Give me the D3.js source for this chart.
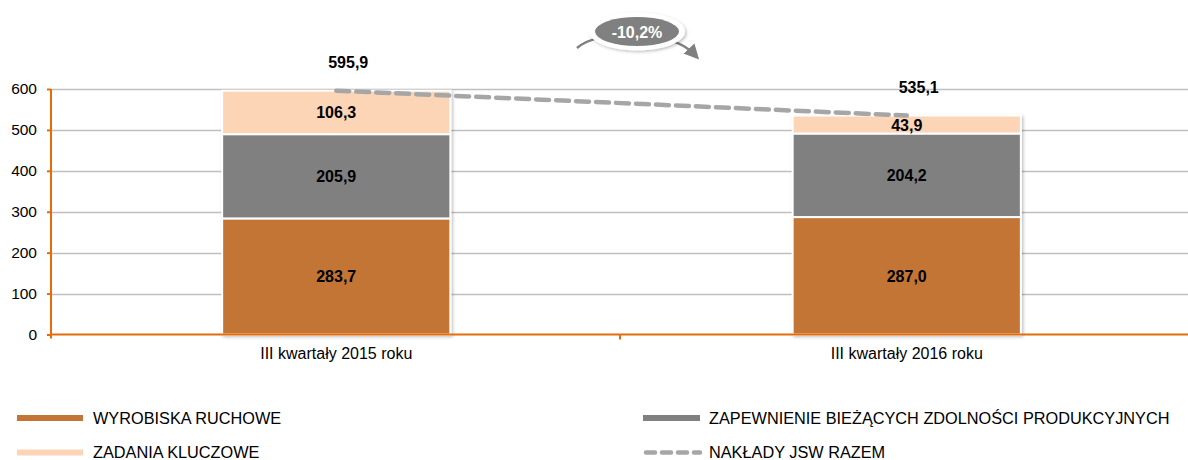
<!DOCTYPE html>
<html><head><meta charset="utf-8">
<script src="https://cdn.jsdelivr.net/npm/d3@7"></script>
<style>body{margin:0;background:#fff;}svg{display:block;font-family:"Liberation Sans",Arial,sans-serif;}</style>
</head><body>
<svg id="c" width="1188" height="460"></svg>
<script>
const categories = ["III kwartały 2015 roku", "III kwartały 2016 roku"];
const wyrobiska = [283.7, 287.0];
const zapewnienie = [205.9, 204.2];
const zadania = [106.3, 43.9];
const razem = [595.9, 535.1];
const yTicks = [0, 100, 200, 300, 400, 500, 600];
const seriesNames = ["WYROBISKA RUCHOWE", "ZAPEWNIENIE BIEŻĄCYCH ZDOLNOŚCI PRODUKCYJNYCH", "ZADANIA KLUCZOWE", "NAKŁADY JSW RAZEM"];
const changeLabel = "-10,2%";

const fmt = v => v.toFixed(1).replace(".", ",");
const svg = d3.select("#c");
const colors = ["#C37535", "#808080", "#FBD5B5"];
const FF = "Liberation Sans, Arial, sans-serif";

const x = d3.scaleBand().domain(categories).range([51, 1192]).padding(0);
const y = d3.scaleLinear().domain([0, 600]).range([334.5, 89]);

const defs = svg.append("defs");
const f = defs.append("filter").attr("id", "sh").attr("x", "-10%").attr("y", "-10%").attr("width", "130%").attr("height", "130%");
f.append("feDropShadow").attr("dx", 1.5).attr("dy", 1.5).attr("stdDeviation", 1.5).attr("flood-color", "#000").attr("flood-opacity", 0.25);
defs.append("marker").attr("id", "ah").attr("viewBox", "0 0 10 10").attr("refX", 5).attr("refY", 5)
  .attr("markerWidth", 6).attr("markerHeight", 6).attr("orient", "auto")
  .append("path").attr("d", "M0,0 L10,5 L0,10 Z").attr("fill", "#808080");

// gridlines
svg.append("g").selectAll("line").data(yTicks.slice(1)).join("line")
  .attr("x1", 51).attr("x2", 1188).attr("y1", d => Math.round(y(d)) + 0.5).attr("y2", d => Math.round(y(d)) + 0.5)
  .attr("stroke", "#BFBFBF").attr("stroke-width", 1.5);

// stacked bars
const stackData = categories.map((c, i) => ({cat: c, a: wyrobiska[i], b: zapewnienie[i], c2: zadania[i]}));
const stack = d3.stack().keys(["a", "b", "c2"])(stackData);
const bw = x.bandwidth() * 0.4;
const gBars = svg.append("g").attr("filter", "url(#sh)");
stack.forEach((layer, li) => {
  gBars.selectAll(null).data(layer).join("rect")
    .attr("x", d => x(d.data.cat) + x.bandwidth() / 2 - bw / 2)
    .attr("width", bw)
    .attr("y", d => y(d[1]))
    .attr("height", d => y(d[0]) - y(d[1]))
    .attr("fill", colors[li])
    .attr("stroke", "#fff").attr("stroke-width", 2);
});
stack.forEach((layer) => {
  svg.append("g").selectAll("text").data(layer).join("text")
    .attr("x", d => x(d.data.cat) + x.bandwidth() / 2)
    .attr("y", d => (y(d[0]) + y(d[1])) / 2 + 6)
    .attr("text-anchor", "middle").attr("font-weight", "bold").attr("font-size", 16).attr("fill", "#000")
    .text(d => fmt(d[1] - d[0]));
});

// axes
const yAxis = svg.append("g").attr("transform", "translate(51,0)")
  .call(d3.axisLeft(y).tickValues(yTicks).tickSize(4).tickPadding(10).tickFormat(d3.format("d")));
yAxis.select(".domain").attr("d", `M0,${y(600)}V${y(0) + 4}`).attr("stroke", "#E46C0A").attr("stroke-width", 2);
yAxis.selectAll(".tick line").attr("stroke", "#E46C0A").attr("stroke-width", 2);
yAxis.selectAll(".tick text").attr("font-size", 15.5).attr("fill", "#000").attr("font-family", FF);

const xAxis = svg.append("g").attr("transform", `translate(0,${y(0)})`)
  .call(d3.axisBottom(x).tickSize(0).tickPadding(13));
xAxis.select(".domain").attr("d", "M51,0H1188").attr("stroke", "#E46C0A").attr("stroke-width", 2);
xAxis.selectAll(".tick text").attr("font-size", 16).attr("fill", "#000").attr("font-family", FF);
svg.append("line").attr("x1", 620).attr("x2", 620).attr("y1", y(0)).attr("y2", y(0) + 5)
  .attr("stroke", "#E46C0A").attr("stroke-width", 2);

// total line
const pts = categories.map((c, i) => [x(c) + x.bandwidth() / 2, y(razem[i])]);
svg.append("path").attr("d", d3.line()(pts)).attr("fill", "none")
  .attr("stroke", "#A6A6A6").attr("stroke-width", 4.5).attr("stroke-dasharray", "13,7").attr("stroke-linecap", "round");
svg.append("g").selectAll("text").data(pts).join("text")
  .attr("x", d => d[0] + 12).attr("y", d => d[1] - 23)
  .attr("text-anchor", "middle").attr("font-weight", "bold").attr("font-size", 16).attr("fill", "#000")
  .text((d, i) => fmt(razem[i]));

// change bubble
svg.append("path").attr("d", "M577,48 C600,28 672,30 694,54").attr("fill", "none")
  .attr("stroke", "#808080").attr("stroke-width", 2.5).attr("marker-end", "url(#ah)");
svg.append("ellipse").attr("cx", 637).attr("cy", 31.5).attr("rx", 48).attr("ry", 19)
  .attr("fill", "#fff").attr("filter", "url(#sh)");
svg.append("ellipse").attr("cx", 637).attr("cy", 31.5).attr("rx", 42).attr("ry", 14.5)
  .attr("fill", "#808080");
svg.append("text").attr("x", 637).attr("y", 37.5).attr("text-anchor", "middle")
  .attr("font-weight", "bold").attr("font-size", 16).attr("fill", "#fff").text(changeLabel);

// legend
const legPos = [[17, 418], [643, 418], [17, 452.5], [643, 452.5]];
const lg = svg.append("g");
seriesNames.forEach((n, i) => {
  const [lx, ly] = legPos[i];
  const w = i % 2 === 0 ? 66 : 57;
  if (i < 3) {
    lg.append("line").attr("x1", lx).attr("x2", lx + w).attr("y1", ly).attr("y2", ly)
      .attr("stroke", colors[i === 1 ? 1 : (i === 0 ? 0 : 2)]).attr("stroke-width", 6);
  } else {
    lg.append("line").attr("x1", lx + 3).attr("x2", lx + w).attr("y1", ly).attr("y2", ly)
      .attr("stroke", "#A6A6A6").attr("stroke-width", 4.5).attr("stroke-dasharray", "9,7").attr("stroke-linecap", "round");
  }
  lg.append("text").attr("x", i % 2 === 0 ? 93 : 709).attr("y", ly + 5.5).attr("font-size", 16.3).attr("fill", "#000").text(n);
});
</script>
</body></html>
